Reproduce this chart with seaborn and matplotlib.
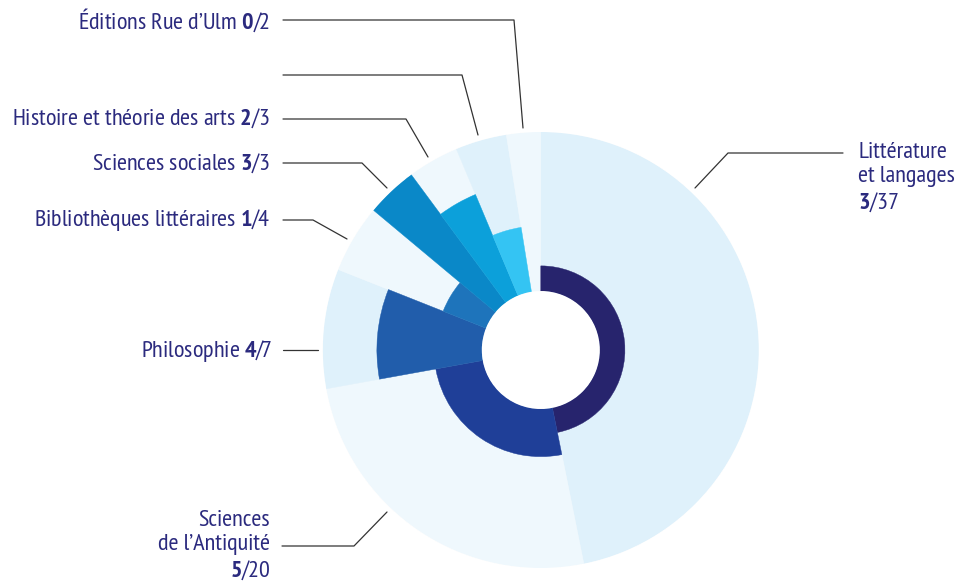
import numpy as np
import matplotlib
matplotlib.use("Agg")
import matplotlib.pyplot as plt
import seaborn as sns
from matplotlib.lines import Line2D
from matplotlib import font_manager as fm

# ---------------- data ----------------
categories = ["Littérature et langages", "Sciences de l’Antiquité", "Philosophie",
              "Bibliothèques littéraires", "Sciences sociales",
              "Histoire et théorie des arts", "", "Éditions Rue d’Ulm"]
label_names = ["Littérature\net langages", "Sciences\nde l’Antiquité", "Philosophie",
               "Bibliothèques littéraires", "Sciences sociales",
               "Histoire et théorie des arts", "", "Éditions Rue d’Ulm"]
totals = [37, 20, 7, 4, 3, 3, 3, 2]
counts = [3, 5, 4, 1, 3, 2, 1, 0]
# radial extent of the inner wedges (0 = hole edge, 1 = outer edge)
inner_values = [0.158, 0.30, 0.66, 0.29, 1.0, 0.69, 0.41, 0.0]

# ---------------- style ----------------
sns.set_theme(style="white")
available = set(f.name for f in fm.fontManager.ttflist)
font_pref = ["PT Sans Narrow", "Liberation Sans Narrow", "DejaVu Sans"]
main_font = next((f for f in font_pref if f in available), "DejaVu Sans")
plt.rcParams["font.family"] = [main_font, "DejaVu Sans"]
plt.rcParams["mathtext.fontset"] = "custom"
plt.rcParams["mathtext.rm"] = main_font
plt.rcParams["mathtext.bf"] = main_font + ":bold"

outer_colors = ["#dff1fb", "#eff8fd"]
inner_colors = ["#27246d", "#1f3f98", "#215dab", "#1e74bb", "#0a88c8",
                "#0ca0da", "#34c4f3", "#34c4f3"]
text_color = "#2b2a7e"
line_color = "#333333"

W, H = 960, 582
fig = plt.figure(figsize=(W / 100, H / 100), dpi=100)
cx, cy, R = 540.8, 350.0, 218.0
ax = fig.add_axes([(cx - R) / W, (H - cy - R) / H, 2 * R / W, 2 * R / H],
                  projection="polar")
ax.set_theta_zero_location("N")
ax.set_theta_direction(-1)

tot = np.array(totals, dtype=float)
widths = tot / tot.sum() * 2 * np.pi
starts = np.concatenate([[0], np.cumsum(widths)[:-1]])

for i in range(len(totals)):
    ax.bar(starts[i], 1.0, width=widths[i], bottom=0, align="edge",
           color=outer_colors[i % 2], edgecolor=outer_colors[i % 2], linewidth=0.3)
for i in range(len(totals)):
    if inner_values[i] > 0:
        ax.bar(starts[i], inner_values[i], width=widths[i], bottom=0, align="edge",
               color=inner_colors[i], edgecolor=inner_colors[i], linewidth=0.3)

ax.set_ylim(0, 1)
ax.set_rorigin(-0.371)
ax.set_xticks([])
ax.set_yticks([])
ax.grid(False)
for sp in ax.spines.values():
    sp.set_visible(False)
ax.patch.set_visible(False)
ax.axis("off")

# ---------------- labels ----------------
def fx(x):
    return x / W

def fy(y):
    return 1 - y / H

# (x, y, ha) in image pixels for each label
label_pos = [(858, 178, "left"), (270, 546, "right"), (272, 351, "right"),
             (270, 220, "right"), (270, 163, "right"), (270, 118, "right"),
             (270, 75, "right"), (270, 20, "right")]
leaders = [
    [(843, 153), (728, 153), (695, 188)],
    [(282, 546), (354, 546), (387, 512)],
    [(283, 350), (318, 350)],
    [(283, 220), (313, 220), (347, 239)],
    [(283, 163), (362, 163), (387, 188)],
    [(283, 119), (406, 119), (428, 157)],
    [(283, 75), (462, 75), (478, 135)],
    [(283, 20), (514, 20), (523, 128)],
]

for i, name in enumerate(label_names):
    x, y, ha = label_pos[i]
    if name:
        sep = "\n" if "\n" in name else " "
        txt = f"{name}{sep}$\\mathbf{{{counts[i]}}}$/{totals[i]}"
        fig.text(fx(x), fy(y), txt, ha=ha, va="center", fontsize=17.5,
                 color=text_color, linespacing=1.2)
    pts = leaders[i]
    fig.add_artist(Line2D([fx(p[0]) for p in pts], [fy(p[1]) for p in pts],
                          color=line_color, lw=0.9))

fig.savefig("out.png", dpi=100)
